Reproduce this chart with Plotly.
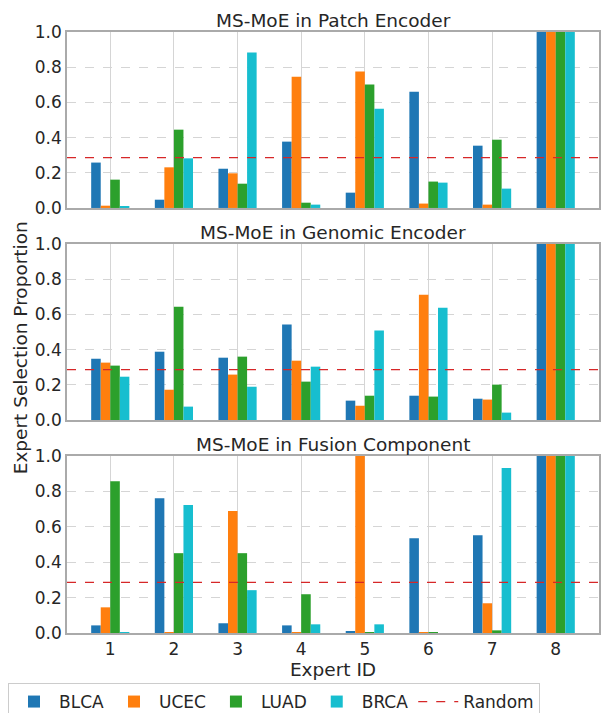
import plotly.graph_objects as go

experts = [1, 2, 3, 4, 5, 6, 7, 8]
series_names = ["BLCA", "UCEC", "LUAD", "BRCA"]
colors = ["#1f77b4", "#ff7f0e", "#2ca02c", "#17becf"]
random_baseline = 2 / 7

patch_blca = [0.258, 0.047, 0.223, 0.377, 0.087, 0.661, 0.354, 1.0]
patch_ucec = [0.013, 0.231, 0.197, 0.746, 0.775, 0.025, 0.019, 1.0]
patch_luad = [0.161, 0.445, 0.138, 0.030, 0.701, 0.150, 0.388, 1.0]
patch_brca = [0.008, 0.282, 0.883, 0.019, 0.564, 0.144, 0.110, 1.0]

genomic_blca = [0.348, 0.388, 0.354, 0.542, 0.110, 0.138, 0.121, 1.0]
genomic_ucec = [0.326, 0.172, 0.258, 0.337, 0.081, 0.712, 0.116, 1.0]
genomic_luad = [0.309, 0.644, 0.360, 0.218, 0.138, 0.133, 0.201, 1.0]
genomic_brca = [0.246, 0.076, 0.189, 0.303, 0.508, 0.638, 0.042, 1.0]

fusion_blca = [0.043, 0.762, 0.055, 0.043, 0.009, 0.536, 0.553, 1.0]
fusion_ucec = [0.145, 0.002, 0.689, 0.002, 1.0, 0.002, 0.168, 1.0]
fusion_luad = [0.858, 0.451, 0.451, 0.219, 0.002, 0.002, 0.015, 1.0]
fusion_brca = [0.004, 0.723, 0.242, 0.049, 0.049, 0.0, 0.932, 1.0]

panel_titles = ["MS-MoE in Patch Encoder", "MS-MoE in Genomic Encoder", "MS-MoE in Fusion Component"]
panels = [
    [patch_blca, patch_ucec, patch_luad, patch_brca],
    [genomic_blca, genomic_ucec, genomic_luad, genomic_brca],
    [fusion_blca, fusion_ucec, fusion_luad, fusion_brca],
]

x_range = [0.32, 8.68]
domains = [[0.7072, 1.0], [0.3544, 0.6473], [0.0, 0.2945]]
FONT = "DejaVu Sans"
TXT = "#262626"

fig = go.Figure()
for p, data in enumerate(panels):
    ax = "" if p == 0 else str(p + 1)
    for s, vals in enumerate(data):
        fig.add_trace(go.Bar(
            x=experts, y=vals, name=series_names[s],
            marker=dict(color=colors[s], line=dict(width=0)),
            offsetgroup=str(s), legendgroup=series_names[s],
            showlegend=(p == 0), xaxis="x" + ax, yaxis="y" + ax,
        ))
    fig.add_trace(go.Scatter(
        x=x_range, y=[random_baseline, random_baseline], mode="lines",
        line=dict(color="#d62728", width=1.2, dash="dash"),
        name="Random", legendgroup="Random", showlegend=(p == 0),
        xaxis="x" + ax, yaxis="y" + ax,
    ))

layout = dict(
    width=607, height=713,
    margin=dict(l=67, r=8, t=32, b=80, autoexpand=False),
    paper_bgcolor="white", plot_bgcolor="white",
    barmode="group", bargap=0.4, bargroupgap=0,
    font=dict(family=FONT, color=TXT, size=17),
    legend=dict(
        orientation="h", xref="container", yref="container",
        x=8 / 607, xanchor="left", y=(713 - 683) / 713, yanchor="top",
        bordercolor="#cccccc", borderwidth=1, font=dict(size=17, color=TXT),
        traceorder="normal", itemwidth=40,
    ),
)
annotations = []
for p in range(3):
    ax = "" if p == 0 else str(p + 1)
    xa = "xaxis" + ax
    ya = "yaxis" + ax
    layout[xa] = dict(
        domain=[0, 1], range=x_range, anchor="y" + ax,
        tickvals=experts, ticktext=[str(e) for e in experts],
        showticklabels=(p == 2), showgrid=True, gridcolor="#d5d5d5", gridwidth=1.2,
        showline=True, linecolor="#aaaaaa", linewidth=1.5, mirror=True,
        ticks="", zeroline=False, tickfont=dict(size=17, color=TXT),
    )
    layout[ya] = dict(
        domain=domains[p], range=[0, 1], anchor="x" + ax,
        tickvals=[0, 0.2, 0.4, 0.6, 0.8, 1.0], ticktext=["0.0", "0.2", "0.4", "0.6", "0.8", "1.0"],
        showgrid=True, gridcolor="#d5d5d5", gridwidth=1.2, griddash="dash",
        showline=True, linecolor="#aaaaaa", linewidth=1.5, mirror=True,
        ticks="", zeroline=False, tickfont=dict(size=17, color=TXT),
    )
    if p != 0:
        layout[xa]["matches"] = "x"
    annotations.append(dict(
        text=panel_titles[p], xref="paper", yref="paper", x=0.5, y=domains[p][1],
        xanchor="center", yanchor="bottom", showarrow=False, yshift=-1,
        font=dict(size=18.5, color=TXT, family=FONT),
    ))
layout["xaxis3"]["title"] = dict(text="Expert ID", font=dict(size=18.5, color=TXT), standoff=4)
annotations.append(dict(
    text="Expert Selection Proportion", xref="paper", yref="paper", x=-0.088, y=0.474,
    xanchor="center", yanchor="middle", textangle=-90, showarrow=False,
    font=dict(size=18.5, color=TXT, family=FONT),
))
layout["annotations"] = annotations
fig.update_layout(**layout)
fig.write_html(
    "out.html",
    config={"displayModeBar": False},
    post_script="document.body.style.margin='0';document.body.style.overflow='hidden';",
)
